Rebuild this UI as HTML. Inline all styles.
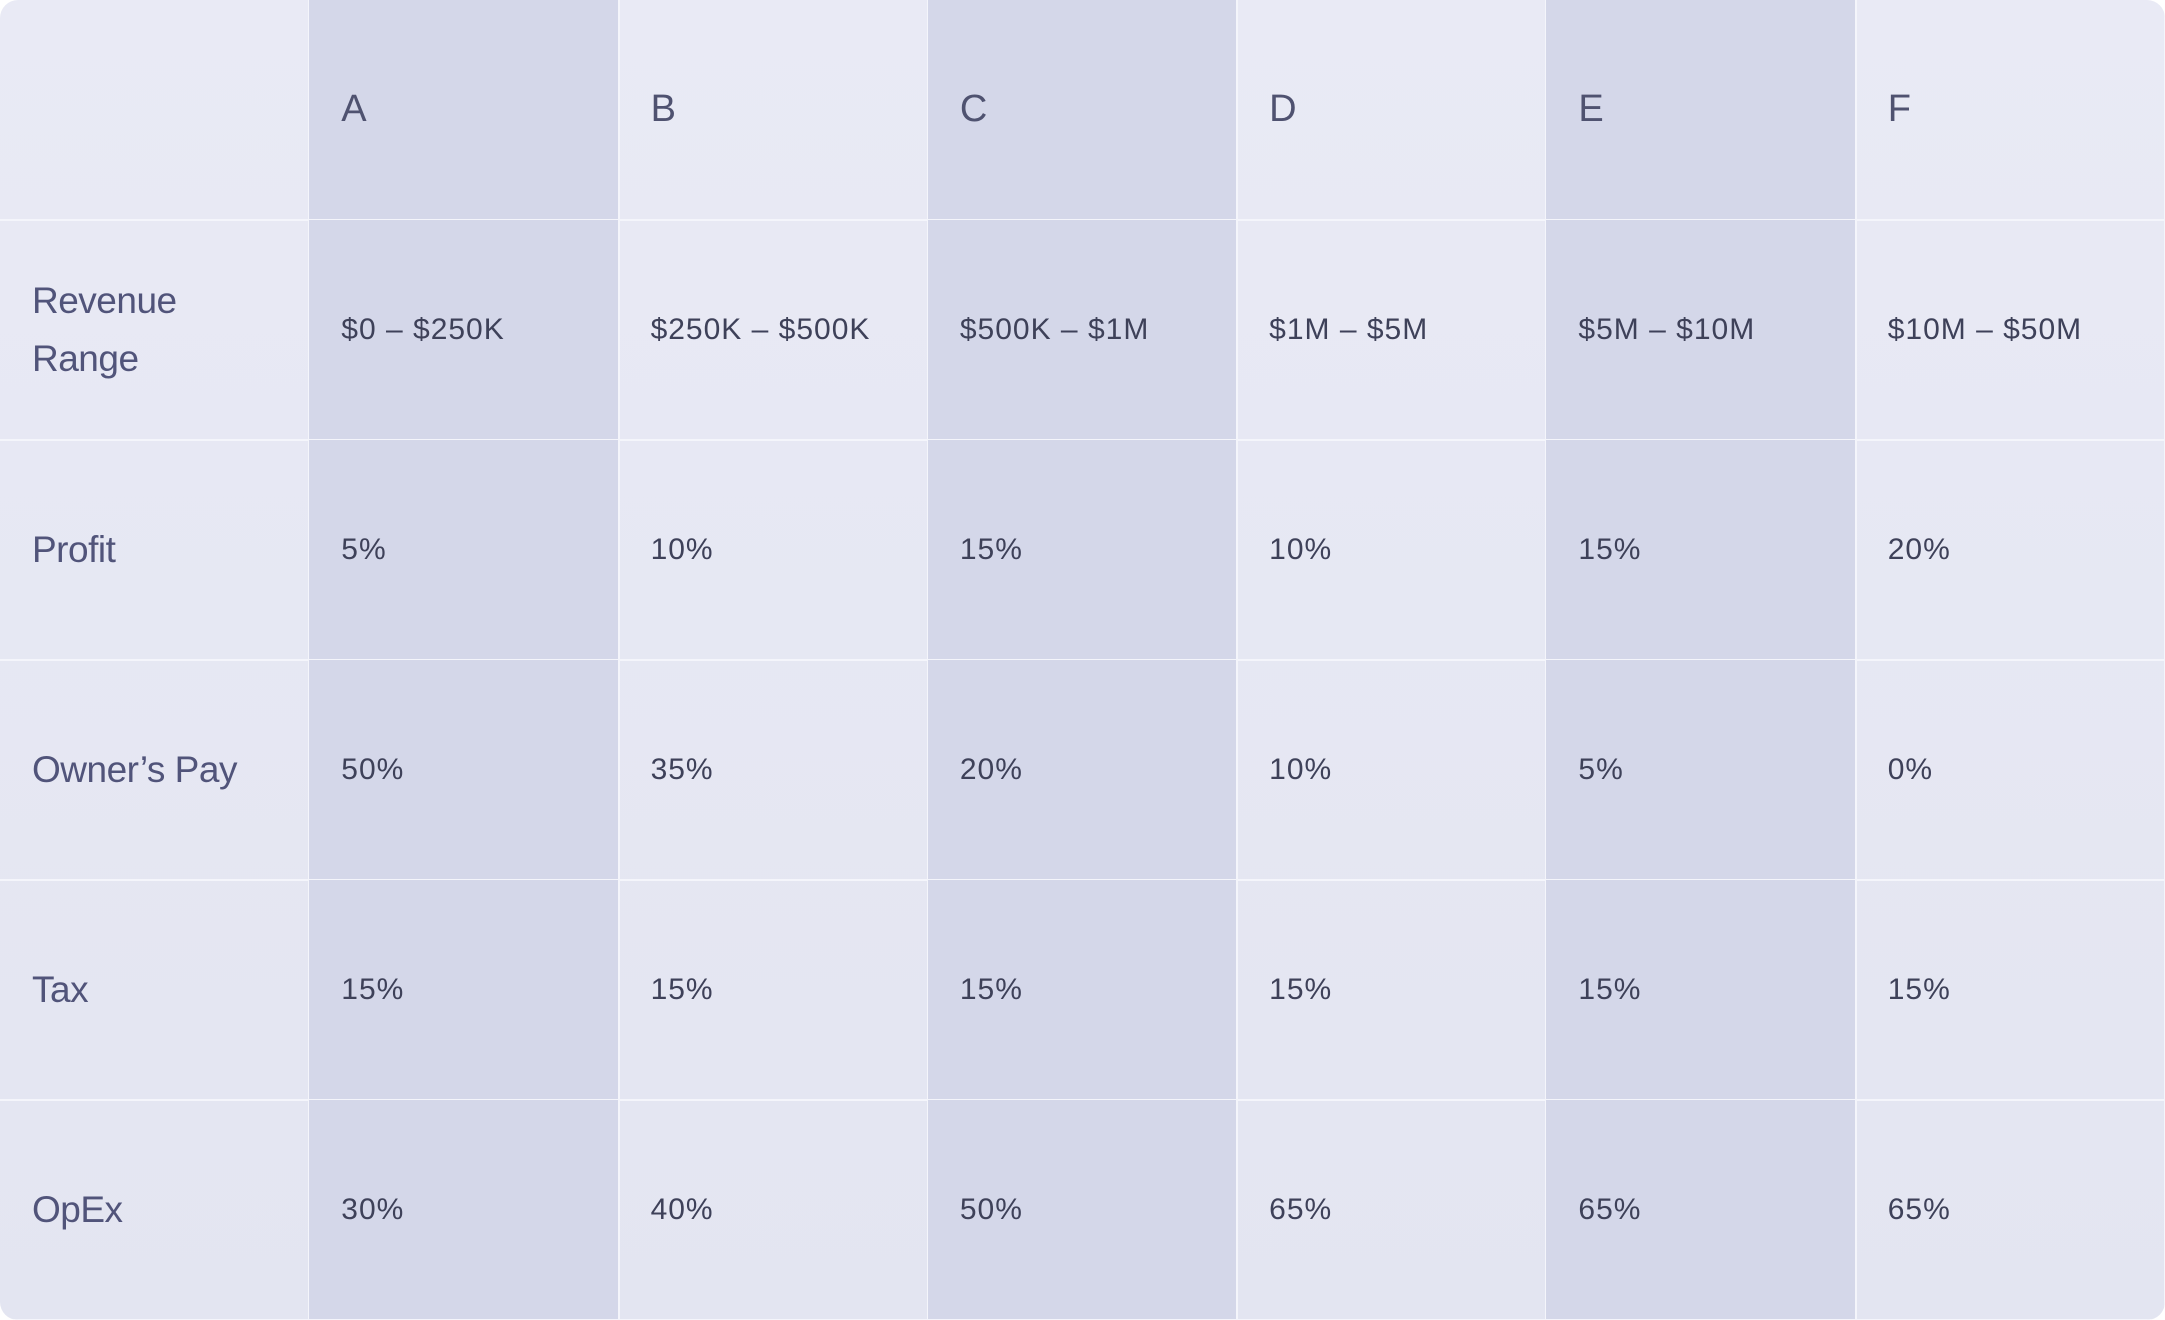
<!DOCTYPE html>
<html><head><meta charset="utf-8"><style>
html,body{margin:0;padding:0;background:#fff;}
#t{position:absolute;left:0;top:0;width:2165px;height:1320px;border-radius:18px;overflow:hidden;background:linear-gradient(180deg,#e9eaf5 0%,#e3e5f1 100%);}
.c{position:absolute;box-sizing:border-box;border-right:2px solid #f4f5fb;border-bottom:2px solid #f4f5fb;display:flex;align-items:center;padding-left:32px;color:#3e4159;font-family:"Liberation Sans",sans-serif;}
.dk{background:#d4d7e9;}
.h{font-size:38px;color:#4f5270;}
.l{font-size:37px;color:#51547a;line-height:58px;letter-spacing:-0.5px;}
.v{font-size:30px;letter-spacing:1px;}
</style></head><body>
<div id="t"></div>
<script>
const columns=["A","B","C","D","E","F"];
const rowLabels=["Revenue<br>Range","Profit","Owner’s Pay","Tax","OpEx"];
const revenue=["$0 – $250K","$250K – $500K","$500K – $1M","$1M – $5M","$5M – $10M","$10M – $50M"];
const profit=["5%","10%","15%","10%","15%","20%"];
const ownersPay=["50%","35%","20%","10%","5%","0%"];
const tax=["15%","15%","15%","15%","15%","15%"];
const opex=["30%","40%","50%","65%","65%","65%"];
const rows=[revenue,profit,ownersPay,tax,opex];
const rowNames=["revenue-range","profit","owners-pay","tax","opex"];
const W=2165/7,H=220;
const t=document.getElementById('t');
function cell(r,c,html,cls,name){
  const d=document.createElement('div');
  d.className='c '+cls+(c%2===1?' dk':'');
  d.style.left=(c*W)+'px';d.style.top=(r*H)+'px';
  d.style.width=(W+1)+'px';d.style.height=(H+1)+'px';
  d.innerHTML=html;
  
  
  t.appendChild(d);
}
cell(0,0,'','h','corner-cell');
columns.forEach((h,i)=>cell(0,i+1,h,'h','column-header-'+h.toLowerCase()));
rows.forEach((vals,r)=>{
  cell(r+1,0,rowLabels[r],'l',rowNames[r]+'-label');
  vals.forEach((v,i)=>cell(r+1,i+1,v,'v',rowNames[r]+'-'+columns[i].toLowerCase()));
});
</script>
</body></html>
